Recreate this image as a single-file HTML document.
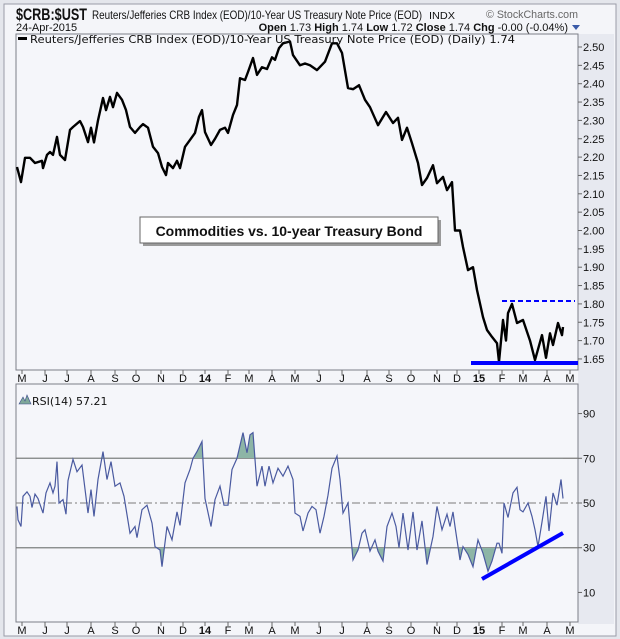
<!DOCTYPE html>
<html><head><meta charset="utf-8"><style>
html,body{margin:0;padding:0;background:#e4e6ec;}
svg{display:block;font-family:"Liberation Sans",sans-serif;}
</style></head><body>
<svg id="chart" width="620" height="639" viewBox="0 0 620 639">
<rect x="0" y="0" width="620" height="639" fill="#e4e6ec"/>
<rect x="4" y="4" width="612" height="632" fill="#f4f5f9" stroke="#9a9ca8"/>
<rect x="578" y="34" width="36" height="590" fill="#e7e9f0"/>
<text x="16" y="20" font-size="17" font-weight="bold" fill="#111" textLength="71" lengthAdjust="spacingAndGlyphs">$CRB:$UST</text>
<text x="92" y="19" font-size="12" fill="#111" textLength="330" lengthAdjust="spacingAndGlyphs">Reuters/Jefferies CRB Index (EOD)/10-Year US Treasury Note Price (EOD)</text>
<text x="429" y="19" font-size="10" fill="#111" textLength="26" lengthAdjust="spacingAndGlyphs">INDX</text>
<text x="578" y="18" font-size="11" fill="#666" text-anchor="end" textLength="92" lengthAdjust="spacingAndGlyphs">© StockCharts.com</text>
<text x="16" y="31" font-size="11" fill="#111">24-Apr-2015</text>
<text x="568" y="31" font-size="11" fill="#111" text-anchor="end"><tspan font-weight="bold">Open</tspan> 1.73 <tspan font-weight="bold">High</tspan> 1.74 <tspan font-weight="bold">Low</tspan> 1.72 <tspan font-weight="bold">Close</tspan> 1.74 <tspan font-weight="bold">Chg</tspan> -0.00 (-0.04%)</text>
<polygon points="572,25 580,25 576,30" fill="#3a5aa8"/>
<rect x="16" y="34" width="562" height="336" fill="#f5f6fa" stroke="#7c7e88"/>
<rect x="16" y="384" width="562" height="238" fill="#f5f6fa" stroke="#7c7e88"/>
<g id="priceAxis"></g><g id="rsiAxis"></g><g id="xAxis"></g>
<g id="rsiFill"></g>
<g id="rsiLineG"></g>
<g id="priceLineG"></g>
<rect x="18" y="37" width="9" height="3" fill="#000"/>
<text x="30" y="43" font-size="11" fill="#111" font-family="DejaVu Sans, sans-serif" textLength="485" lengthAdjust="spacingAndGlyphs">Reuters/Jefferies CRB Index (EOD)/10-Year US Treasury Note Price (EOD) (Daily) 1.74</text>
<polygon points="19,404 23,397 25,401 27,395 31,404" fill="#7fa89a" stroke="#3a4a8a" stroke-width="0.6"/>
<text x="32" y="405" font-size="11" fill="#111" font-family="DejaVu Sans, sans-serif">RSI(14) 57.21</text>
<rect x="143" y="220" width="298" height="26" fill="#9a9a9a"/>
<rect x="140" y="217" width="298" height="26" fill="#fff" stroke="#666"/>
<text x="289" y="236" font-size="14" font-weight="bold" text-anchor="middle" fill="#111">Commodities vs. 10-year Treasury Bond</text>
<line x1="471" y1="363" x2="578" y2="363" stroke="#0000ff" stroke-width="4"/>
<line x1="502" y1="301" x2="575" y2="301" stroke="#0000ff" stroke-width="2" stroke-dasharray="5,3"/>
<line x1="482" y1="579" x2="563" y2="533" stroke="#0000ff" stroke-width="4"/>
</svg>
<script>
const priceDays=[0,4,8,13,18,25,26,30,33,36,40,43,48,53,56,63,66,71,74,77,81,86,89,93,96,100,105,109,113,118,123,126,131,136,141,145,149,151,156,160,163,168,173,178,182,185,188,194,198,203,208,211,216,220,223,228,231,236,240,245,250,255,258,262,266,273,276,283,288,293,300,308,315,320,325,331,336,342,348,353,361,369,376,381,385,390,395,401,405,410,416,420,426,430,435,438,443,446,451,456,460,466,470,475,480,482,486,489,491,495,500,506,513,518,525,529,533,536,541,545,546];
const priceValues=[2.173,2.132,2.198,2.198,2.184,2.19,2.17,2.206,2.214,2.206,2.255,2.206,2.192,2.274,2.282,2.298,2.282,2.241,2.28,2.24,2.30,2.361,2.328,2.364,2.336,2.375,2.356,2.328,2.282,2.266,2.282,2.29,2.28,2.228,2.211,2.173,2.151,2.184,2.17,2.19,2.17,2.228,2.247,2.266,2.31,2.328,2.268,2.233,2.25,2.274,2.28,2.266,2.315,2.342,2.415,2.41,2.432,2.47,2.424,2.445,2.44,2.472,2.465,2.497,2.51,2.515,2.478,2.45,2.455,2.45,2.437,2.46,2.51,2.51,2.484,2.388,2.385,2.396,2.356,2.336,2.287,2.323,2.293,2.307,2.247,2.28,2.238,2.184,2.124,2.143,2.178,2.129,2.146,2.11,2.132,2.0,2.0,1.955,1.892,1.90,1.838,1.764,1.729,1.71,1.693,1.642,1.756,1.70,1.775,1.80,1.748,1.756,1.70,1.647,1.715,1.653,1.72,1.688,1.748,1.715,1.737];
const rsiDays=[0,1,4,6,10,13,15,18,21,26,29,33,36,38,40,42,46,49,51,56,60,65,71,74,77,81,86,90,94,98,103,107,113,118,120,125,130,135,138,143,145,150,155,160,163,168,173,176,180,185,188,194,198,203,207,211,215,220,226,230,233,236,240,245,248,252,256,261,266,271,276,278,283,286,291,295,299,303,307,311,315,320,323,326,331,336,341,345,348,353,358,361,366,370,375,379,382,386,391,396,400,405,410,416,420,425,430,433,436,438,443,446,451,456,461,466,471,475,480,482,485,487,491,496,500,503,506,511,515,518,521,525,529,532,536,540,544,546];
const rsiValues=[48.5,42.5,39.5,53,55,53,48,54,52,45.5,54.5,59,54.5,57.5,68.5,50,51.5,45,60,69.5,64,67,45.5,56,44,60.5,73,60.5,68.5,57.5,59,53,36.5,39.5,34.5,47,49,41,30.5,29,21.5,39.5,33.5,46,40,59,65,70,73,77.5,52,39.5,51.5,57.5,49,49,65,70,81.5,72.5,80.5,81.5,57.5,66.5,57.5,66.5,59,65.5,62,66.5,60.5,45.5,44,37.5,45.5,48.5,47,36.5,44,53.5,65.5,71,60.5,45.5,50,24.5,29,36.5,38,28.5,33.5,28.5,24,39.5,45.5,39.5,30,45.5,29,46,29,42,22.5,35,48.5,38,45,39.5,46,39.5,24.5,30.5,27,21.5,33.5,27.5,19.5,24,32,32,27.5,50,43.5,54.5,57,47,46,50,44,38,30.5,41.5,53,37.5,54.5,49,60.5,52,57.21];
const priceTicks=[1.65,1.70,1.75,1.80,1.85,1.90,1.95,2.00,2.05,2.10,2.15,2.20,2.25,2.30,2.35,2.40,2.45,2.50];
const rsiTicks=[10,30,50,70,90];
const monthLabels=["M","J","J","A","S","O","N","D","14","F","M","A","M","J","J","A","S","O","N","D","15","F","M","A","M"];
const monthDays=[5,28,50,74,98,119,144,166,188,211,232,255,278,302,325,350,372,394,420,440,462,485,506,530,553];

const NS="http://www.w3.org/2000/svg";
function xS(d){return 17+d;}
function yP(v){return 47+(2.50-v)/0.05*18.35;}
function yR(r){return 503-(r-50)*2.236;}
function mk(tag,attrs,parent){const e=document.createElementNS(NS,tag);for(const k in attrs)e.setAttribute(k,attrs[k]);parent.appendChild(e);return e;}
const svg=document.getElementById('chart');

const pa=document.getElementById('priceAxis');
priceTicks.forEach(v=>{
  const y=yP(v);
  const t=mk('line',{x1:578,x2:582,y1:y,y2:y,stroke:'#666'},pa);
  
  
  const l=mk('text',{x:583,y:y+4,'font-size':11,fill:'#111'},pa);
  l.textContent=v.toFixed(2);
  
  
});
const ra=document.getElementById('rsiAxis');
rsiTicks.forEach(r=>{
  const y=yR(r);
  const t=mk('line',{x1:578,x2:582,y1:y,y2:y,stroke:'#666'},ra);
  
  
  const l=mk('text',{x:583,y:y+4,'font-size':11,fill:'#111'},ra);
  l.textContent=r;
  
  
  if(r===30||r===70||r===50){
    const g=mk('line',{x1:16,x2:578,y1:y,y2:y,stroke:'#7a7a7a','stroke-width':r===50?1:1.3},ra);
    if(r===50)g.setAttribute('stroke-dasharray','8,3,2,3');
    
    
  }
});
const xa=document.getElementById('xAxis');
monthLabels.forEach((m,i)=>{
  const x=xS(monthDays[i]);
  [[370,374],[622,626]].forEach(p=>{
    const t=mk('line',{x1:x,x2:x,y1:p[0],y2:p[1],stroke:'#666'},xa);
    
    
  });
  [382,634].forEach(yy=>{
    const l=mk('text',{x:x,y:yy,'font-size':11,'text-anchor':'middle',fill:'#111','font-weight':/\d/.test(m)?'bold':'normal'},xa);
    l.textContent=m;
    
    
  });
});

const pts=priceDays.map((d,i)=>xS(d).toFixed(1)+','+yP(priceValues[i]).toFixed(1)).join(' ');
const pl=mk('polyline',{points:pts,fill:'none',stroke:'#000','stroke-width':2.4,'stroke-linejoin':'round'},document.getElementById('priceLineG'));



const rp=rsiDays.map((d,i)=>[xS(d),yR(rsiValues[i])]);
const defs=mk('defs',{},svg);
const c1=mk('clipPath',{id:'above70'},defs);mk('rect',{x:16,y:384,width:562,height:yR(70)-384},c1);
const c2=mk('clipPath',{id:'below30'},defs);mk('rect',{x:16,y:yR(30),width:562,height:622-yR(30)},c2);
const fg=document.getElementById('rsiFill');
[[70,'above70','rsi-overbought-fill'],[30,'below30','rsi-oversold-fill']].forEach(f=>{
  const b=yR(f[0]);
  let d='M'+rp[0][0]+','+b+' '+rp.map(p=>'L'+p[0].toFixed(1)+','+p[1].toFixed(1)).join(' ')+' L'+rp[rp.length-1][0]+','+b+'Z';
  const e=mk('path',{d:d,fill:'#8db5a6','clip-path':'url(#'+f[1]+')'},fg);
  
  
});
const rl=mk('polyline',{points:rp.map(p=>p[0].toFixed(1)+','+p[1].toFixed(1)).join(' '),fill:'none',stroke:'#4a5aa0','stroke-width':1.2},document.getElementById('rsiLineG'));


</script>
</body></html>
